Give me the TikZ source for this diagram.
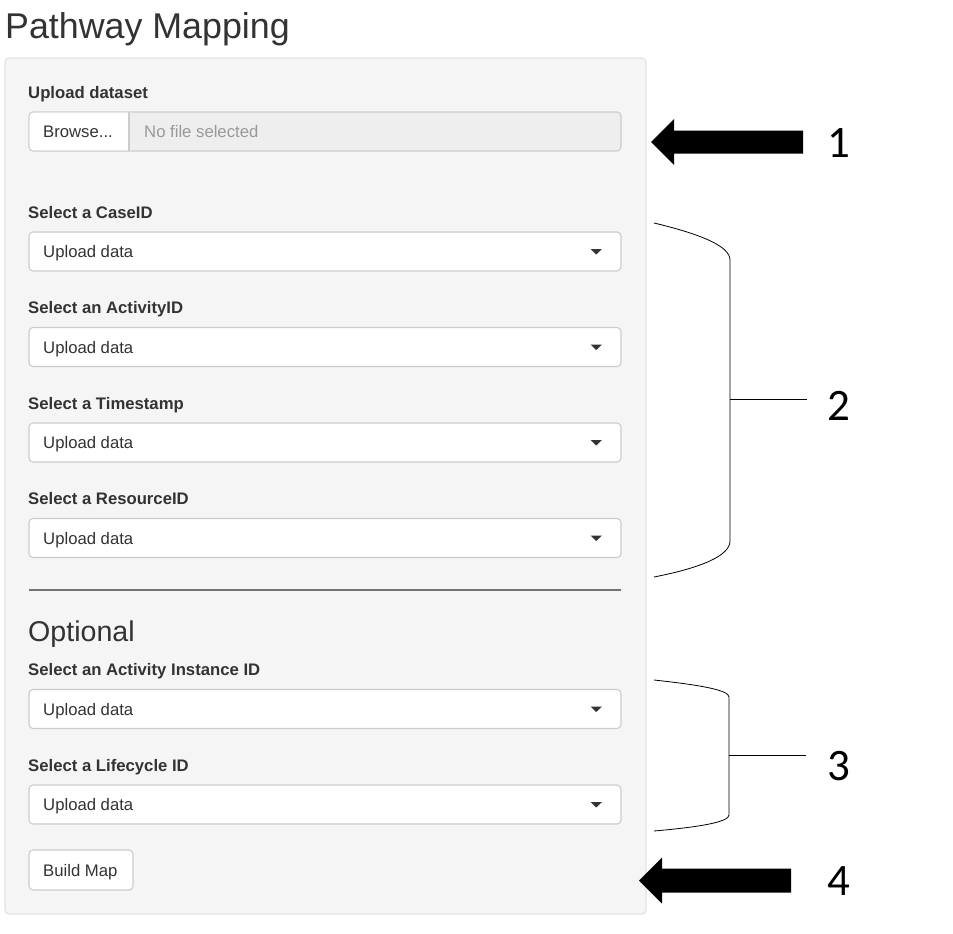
\documentclass[tikz,border=0pt]{standalone}
\usepackage{fontspec}
\setmainfont{Liberation Sans}
\newfontfamily\numfont{Carlito}
\definecolor{panelfill}{HTML}{F5F5F5}
\definecolor{panelline}{HTML}{E3E3E3}
\definecolor{boxline}{HTML}{CCCCCC}
\definecolor{txt}{HTML}{333333}
\definecolor{filefill}{HTML}{EEEEEE}
\definecolor{hint}{HTML}{999999}
\begin{document}
\begin{tikzpicture}[x=1pt,y=-1pt,
  lbl/.style={anchor=base west,inner sep=0pt,text=txt,font=\fontsize{16.7}{20}\selectfont\bfseries},
  val/.style={anchor=base west,inner sep=0pt,text=txt,font=\fontsize{16.7}{20}\selectfont},
  selbox/.style={draw=boxline,fill=white,line width=1.1pt,rounded corners=4pt},
  caret/.style={fill=txt},
  num/.style={anchor=base,inner sep=0pt,font=\fontsize{45}{50}\numfont},
  brk/.style={draw=black,line width=0.8pt},
  blockarrow/.style={fill=black}]
\useasboundingbox (0,0) rectangle (953,934);
\fill[white] (0,0) rectangle (953,934);
% title
\node[anchor=base west,inner sep=0pt,text=txt,font=\fontsize{35.8}{40}\selectfont] (title) at (5,39) {Pathway Mapping};
% panel
\draw[fill=panelfill,draw=panelline,line width=1.2pt,rounded corners=4pt] (5,58) rectangle (646,914);
% upload
\node[lbl] (lup) at (28,99) {Upload dataset};
\draw[fill=filefill,draw=boxline,line width=1.1pt,rounded corners=4pt] (29,112) rectangle (621,151);
\fill[white,rounded corners=4pt] (29.6,112.6) rectangle (135,150.4);
\fill[filefill] (129,112.6) rectangle (136,150.4);
\draw[boxline,line width=1.1pt] (129,112) -- (129,151);
\node[val] (browse) at (43,137.5) {Browse...};
\node[val,text=hint] (nofile) at (144,137.5) {No file selected};
% selects
\foreach \lab/\ly/\c/\nm in {Select a CaseID/218/251.5/s1,Select an ActivityID/313/347/s2,Select a Timestamp/409/442.5/s3,Select a ResourceID/504/538/s4,Select an Activity Instance ID/675/709/s5,Select a Lifecycle ID/771/804.5/s6}{
  \node[lbl] (l\nm) at (28,\ly) {\lab};
  \draw[selbox] (29,\c-19.5) rectangle (621,\c+19.5);
  \node[val] (v\nm) at (43,\c+6) {Upload data};
  \fill[caret] (590.5,\c-2.5) -- (602,\c-2.5) -- (596.2,\c+3) -- cycle;
}
% hr
\draw[color=black!55,line width=1.1pt] (29,590) -- (621,590);
\node[anchor=base west,inner sep=0pt,text=txt,font=\fontsize{28.6}{32}\selectfont] (opt) at (28,641) {Optional};
% build map
\draw[selbox] (29,850) rectangle (133,890);
\node[val] (build) at (43,876) {Build Map};
% arrow 1
\fill[blockarrow] (651,142) -- (674,119) -- (674,130.5) -- (803,130.5) -- (803,153.5) -- (674,153.5) -- (674,165) -- cycle;
\node[num] (n1) at (839,157) {1};
% bracket 2
\coordinate (b2t) at (654,223);
\coordinate (b2b) at (654,577);
\coordinate (b2m) at (730,399);
\coordinate (b2e) at (807,399);
\draw[brk] (b2t) .. controls (700,234) and (730,246) .. (730,260) -- (730,541) .. controls (730,556) and (700,568) .. (b2b);
\draw[brk] (b2m) -- (b2e);
\node[num] (n2) at (839,420) {2};
% bracket 3
\coordinate (b3t) at (654,680);
\coordinate (b3b) at (654,831);
\coordinate (b3m) at (729,755);
\coordinate (b3e) at (806,755);
\draw[brk] (b3t) .. controls (700,685) and (729,690) .. (729,697) -- (729,815) .. controls (729,822) and (700,827) .. (b3b);
\draw[brk] (b3m) -- (b3e);
\node[num] (n3) at (839,780) {3};
% arrow 4
\fill[blockarrow] (639,880.5) -- (662,857.5) -- (662,868.5) -- (791,868.5) -- (791,892.5) -- (662,892.5) -- (662,903.5) -- cycle;
\node[num] (n4) at (839,895) {4};
\end{tikzpicture}
\end{document}
